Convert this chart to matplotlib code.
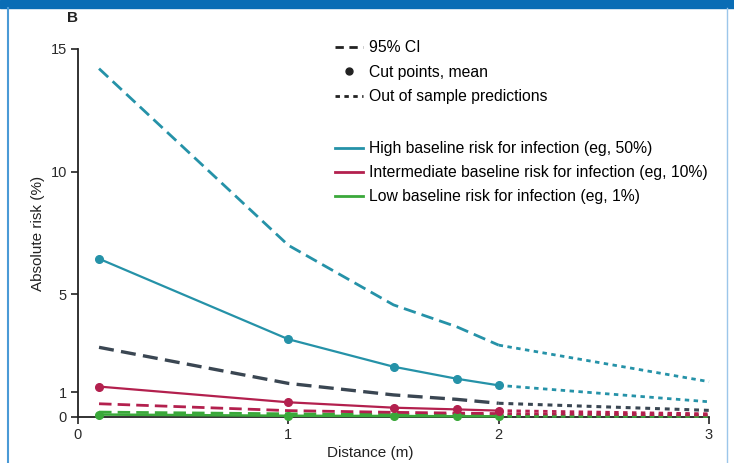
import matplotlib
matplotlib.use("Agg")
import matplotlib.pyplot as plt
from matplotlib.lines import Line2D
from matplotlib.patches import Rectangle

plt.rcParams['font.family'] = ['Liberation Sans', 'DejaVu Sans']

# ---- data ----
x_cut = [0.1, 1.0, 1.5, 1.8, 2.0]
x_oos = [2.0, 3.0]

high_mean = [6.45, 3.17, 2.05, 1.56, 1.29]
high_mean_oos = [1.29, 0.62]
high_upper = [14.2, 7.0, 4.57, 3.68, 2.93]
high_upper_oos = [2.93, 1.44]
# lower CI of high risk overlaps upper CI of intermediate risk
overlap_ci = [2.84, 1.37, 0.90, 0.72, 0.56]
overlap_ci_oos = [0.56, 0.27]

inter_mean = [1.24, 0.60, 0.38, 0.31, 0.26]
inter_mean_oos = [0.26, 0.13]
inter_lower = [0.54, 0.26, 0.19, 0.16, 0.14]
inter_lower_oos = [0.14, 0.08]

low_upper = [0.20, 0.13, 0.10, 0.09, 0.08]
low_upper_oos = [0.08, 0.05]
low_mean = [0.10, 0.05, 0.04, 0.03, 0.03]
low_mean_oos = [0.03, 0.02]

x_ticks = [0, 1, 2, 3]
y_ticks = [0, 1, 5, 10, 15]

legend_top = ["95% CI", "Cut points, mean", "Out of sample predictions"]
legend_series = ["High baseline risk for infection (eg, 50%)",
                 "Intermediate baseline risk for infection (eg, 10%)",
                 "Low baseline risk for infection (eg, 1%)"]

TEAL = "#2592a8"
RED = "#b3204e"
GREEN = "#3aa83a"
DARK = "#3a4652"

W, H = 734, 463
fig = plt.figure(figsize=(W / 100, H / 100), dpi=100)
fig.patches.append(Rectangle((0, 1 - 8 / H), 1, 8 / H, transform=fig.transFigure,
                             color="#0a6db5", zorder=0))
fig.add_artist(Line2D([8 / W, 8 / W], [0, 1 - 8 / H], transform=fig.transFigure,
                      color="#4a9ad6", lw=1.5))
fig.add_artist(Line2D([727 / W, 727 / W], [0, 1 - 8 / H], transform=fig.transFigure,
                      color="#9cc6ea", lw=1))

ax = fig.add_axes([78 / W, 1 - 417 / H, (709 - 78) / W, (417 - 49) / H])

dash = (0, (4.5, 2.2))
dot = (0, (1.6, 1.6))

def draw(xs, ys, color, ls, lw, marker=None, z=3):
    ax.plot(xs, ys, color=color, linestyle=ls, lw=lw, marker=marker,
            markersize=5.5, clip_on=False, zorder=z)

# low
draw(x_cut, low_upper, GREEN, dash, 2.0)
draw(x_oos, low_upper_oos, GREEN, dot, 2.0)
draw(x_cut, low_mean, GREEN, "-", 1.8, "o", 4)
draw(x_oos, low_mean_oos, GREEN, dot, 2.0)
# intermediate
draw(x_cut, inter_lower, RED, dash, 2.0)
draw(x_oos, inter_lower_oos, RED, dot, 2.0)
draw(x_cut, inter_mean, RED, "-", 1.6, "o", 4)
draw(x_oos, inter_mean_oos, RED, dot, 2.0)
# overlap
draw(x_cut, overlap_ci, DARK, dash, 2.4)
draw(x_oos, overlap_ci_oos, DARK, dot, 2.2)
# high
draw(x_cut, high_upper, TEAL, dash, 2.0)
draw(x_oos, high_upper_oos, TEAL, dot, 2.0)
draw(x_cut, high_mean, TEAL, "-", 1.6, "o", 4)
draw(x_oos, high_mean_oos, TEAL, dot, 2.0)

ax.set_xlim(0, 3)
ax.set_ylim(0, 15)
ax.set_xticks(x_ticks)
ax.set_yticks(y_ticks)
ax.set_xticklabels([str(v) for v in x_ticks])
ax.set_yticklabels([str(v) for v in y_ticks])
for s in ["top", "right"]:
    ax.spines[s].set_visible(False)
for s in ["left", "bottom"]:
    ax.spines[s].set_linewidth(1.3)
    ax.spines[s].set_color("#222222")
ax.tick_params(axis="both", direction="out", length=5, width=1.2, color="#222222",
               labelsize=10.5, labelcolor="#2a2a2a", pad=3)

ax.set_ylabel("Absolute risk (%)", fontsize=11, color="#222222", labelpad=4)
ax.set_xlabel("Distance (m)", fontsize=11, color="#222222")
ax.xaxis.set_label_coords(0.463, -0.078)

fig.text(67 / W, 1 - 18 / H, "B", fontsize=11, fontweight="bold", color="#222222",
         va="center", ha="left")

h1 = [Line2D([], [], color="#222222", linestyle=(0, (3, 2)), lw=2),
      Line2D([], [], color="#222222", linestyle="none", marker="o", markersize=5),
      Line2D([], [], color="#222222", linestyle=(0, (1.6, 1.6)), lw=2)]
leg1 = ax.legend(h1, legend_top, loc="upper left", bbox_to_anchor=(335 / W, 1 - 40 / H),
                 bbox_transform=fig.transFigure, frameon=False, fontsize=11.3,
                 handlelength=1.8, handletextpad=0.35, labelspacing=0.62,
                 borderpad=0, borderaxespad=0)
ax.add_artist(leg1)
h2 = [Line2D([], [], color=TEAL, lw=2), Line2D([], [], color=RED, lw=2),
      Line2D([], [], color=GREEN, lw=2)]
ax.legend(h2, legend_series, loc="upper left", bbox_to_anchor=(335 / W, 1 - 141 / H),
          bbox_transform=fig.transFigure, frameon=False, fontsize=11.3,
          handlelength=1.8, handletextpad=0.35, labelspacing=0.58,
          borderpad=0, borderaxespad=0)

fig.savefig("out.png", dpi=100)
